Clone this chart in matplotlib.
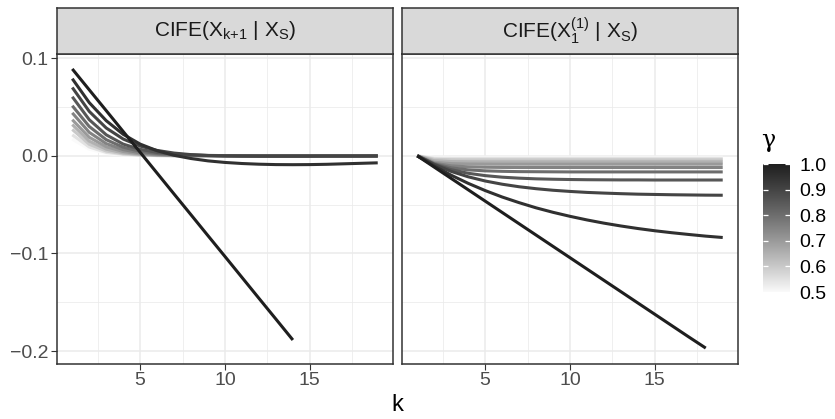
import matplotlib

matplotlib.use("Agg")

import matplotlib.pyplot as plt
import numpy as np
from matplotlib.colors import LinearSegmentedColormap

plt.rcParams["font.family"] = ["Liberation Sans", "DejaVu Sans"]
plt.rcParams["mathtext.fontset"] = "custom"
plt.rcParams["mathtext.rm"] = "Liberation Sans"
plt.rcParams["mathtext.it"] = "Liberation Sans:italic"
plt.rcParams["mathtext.default"] = "regular"

# ---- data ----
k = list(range(1, 20))
gammas = [0.5, 0.55, 0.6, 0.65, 0.7, 0.75, 0.8, 0.85, 0.9, 0.95, 1.0]

# left panel: CIFE(X_{k+1} | X_S)
next_050 = [0.0170, 0.0068, 0.0025, 0.0009, 0.0003, 0.0001, 0.0, 0.0, 0.0, 0.0, 0.0, 0.0, 0.0, 0.0, 0.0, 0.0, 0.0, 0.0, 0.0]
next_055 = [0.0215, 0.0090, 0.0035, 0.0013, 0.0005, 0.0002, 0.0001, 0.0, 0.0, 0.0, 0.0, 0.0, 0.0, 0.0, 0.0, 0.0, 0.0, 0.0, 0.0]
next_060 = [0.0270, 0.0118, 0.0049, 0.0020, 0.0008, 0.0003, 0.0001, 0.0, 0.0, 0.0, 0.0, 0.0, 0.0, 0.0, 0.0, 0.0, 0.0, 0.0, 0.0]
next_065 = [0.0320, 0.0150, 0.0068, 0.0030, 0.0013, 0.0006, 0.0002, 0.0001, 0.0, 0.0, 0.0, 0.0, 0.0, 0.0, 0.0, 0.0, 0.0, 0.0, 0.0]
next_070 = [0.0370, 0.0190, 0.0093, 0.0044, 0.0020, 0.0009, 0.0004, 0.0002, 0.0001, 0.0, 0.0, 0.0, 0.0, 0.0, 0.0, 0.0, 0.0, 0.0, 0.0]
next_075 = [0.0440, 0.0240, 0.0125, 0.0063, 0.0031, 0.0015, 0.0007, 0.0003, 0.0001, 0.0, 0.0, 0.0, 0.0, 0.0, 0.0, 0.0, 0.0, 0.0, 0.0]
next_080 = [0.0513, 0.0300, 0.0165, 0.0088, 0.0046, 0.0024, 0.0012, 0.0006, 0.0003, 0.0001, 0.0, 0.0, 0.0, 0.0, 0.0, 0.0, 0.0, 0.0, 0.0]
next_085 = [0.0605, 0.0370, 0.0215, 0.0120, 0.0066, 0.0035, 0.0018, 0.0009, 0.0004, 0.0002, 0.0001, 0.0, 0.0, 0.0, 0.0, 0.0, 0.0, 0.0, 0.0]
next_090 = [0.0700, 0.0455, 0.0285, 0.0172, 0.0100, 0.0055, 0.0028, 0.0012, 0.0003, -0.0002, -0.0004, -0.0005, -0.0005, -0.0005, -0.0005, -0.0004, -0.0004, -0.0004, -0.0003]
next_095 = [0.0790, 0.0545, 0.0360, 0.0220, 0.0120, 0.0052, 0.0005, -0.0028, -0.0052, -0.0068, -0.0079, -0.0086, -0.0090, -0.0091, -0.0090, -0.0087, -0.0082, -0.0077, -0.0072]
next_100 = [0.0890, 0.0676, 0.0463, 0.0249, 0.0036, -0.0178, -0.0392, -0.0605, -0.0819, -0.1032, -0.1246, -0.1460, -0.1673, -0.1887]

# right panel: CIFE(X_1^(1) | X_S)
copy_050 = [0.0, -0.0014, -0.0015, -0.0015, -0.0015, -0.0015, -0.0015, -0.0015, -0.0015, -0.0015, -0.0015, -0.0015, -0.0015, -0.0015, -0.0015, -0.0015, -0.0015, -0.0015, -0.0015]
copy_055 = [0.0, -0.0024, -0.0025, -0.0025, -0.0025, -0.0025, -0.0025, -0.0025, -0.0025, -0.0025, -0.0025, -0.0025, -0.0025, -0.0025, -0.0025, -0.0025, -0.0025, -0.0025, -0.0025]
copy_060 = [0.0, -0.0036, -0.0040, -0.0041, -0.0041, -0.0041, -0.0041, -0.0041, -0.0041, -0.0041, -0.0041, -0.0041, -0.0041, -0.0041, -0.0041, -0.0041, -0.0041, -0.0041, -0.0041]
copy_065 = [0.0, -0.0050, -0.0059, -0.0061, -0.0062, -0.0062, -0.0062, -0.0062, -0.0062, -0.0062, -0.0062, -0.0062, -0.0062, -0.0062, -0.0062, -0.0062, -0.0062, -0.0062, -0.0062]
copy_070 = [0.0, -0.0066, -0.0080, -0.0084, -0.0085, -0.0086, -0.0086, -0.0086, -0.0086, -0.0086, -0.0086, -0.0086, -0.0086, -0.0086, -0.0086, -0.0086, -0.0086, -0.0086, -0.0086]
copy_075 = [0.0, -0.0076, -0.0103, -0.0113, -0.0117, -0.0119, -0.0120, -0.0120, -0.0120, -0.0120, -0.0120, -0.0120, -0.0120, -0.0120, -0.0120, -0.0120, -0.0120, -0.0120, -0.0120]
copy_080 = [0.0, -0.0082, -0.0123, -0.0144, -0.0154, -0.0159, -0.0162, -0.0163, -0.0164, -0.0165, -0.0165, -0.0165, -0.0165, -0.0165, -0.0165, -0.0165, -0.0165, -0.0165, -0.0165]
copy_085 = [0.0, -0.0086, -0.0142, -0.0179, -0.0203, -0.0219, -0.0229, -0.0236, -0.0240, -0.0243, -0.0245, -0.0246, -0.0247, -0.0247, -0.0248, -0.0248, -0.0248, -0.0248, -0.0248]
copy_090 = [0.0, -0.0090, -0.0160, -0.0215, -0.0258, -0.0291, -0.0317, -0.0337, -0.0353, -0.0365, -0.0375, -0.0382, -0.0388, -0.0393, -0.0396, -0.0399, -0.0401, -0.0403, -0.0404]
copy_095 = [0.0, -0.0105, -0.0199, -0.0282, -0.0356, -0.0422, -0.0480, -0.0533, -0.0579, -0.0620, -0.0657, -0.0690, -0.0719, -0.0745, -0.0768, -0.0788, -0.0806, -0.0823, -0.0837]
copy_100 = [0.0, -0.0116, -0.0232, -0.0348, -0.0464, -0.0580, -0.0696, -0.0812, -0.0928, -0.1044, -0.1160, -0.1276, -0.1392, -0.1508, -0.1624, -0.1740, -0.1856, -0.1970]

left_series = [next_050, next_055, next_060, next_065, next_070, next_075,
               next_080, next_085, next_090, next_095, next_100]
right_series = [copy_050, copy_055, copy_060, copy_065, copy_070, copy_075,
                copy_080, copy_085, copy_090, copy_095, copy_100]
strip_titles = [r"CIFE(X$_{k{+}1}$ | X$_S$)", r"CIFE(X$_1^{(1)}$ | X$_S$)"]


# gradient like ggplot (interpolated in Lab lightness)
def grey_to_L(v):
    v = v / 255.0
    lin = ((v + 0.055) / 1.055) ** 2.4 if v > 0.04045 else v / 12.92
    return 116 * lin ** (1 / 3) - 16 if lin > 0.008856 else 903.3 * lin


def L_to_grey(L):
    lin = ((L + 16) / 116) ** 3 if L > 8 else L / 903.3
    v = 1.055 * lin ** (1 / 2.4) - 0.055 if lin > 0.0031308 else 12.92 * lin
    return min(max(v, 0), 1)


L_lo, L_hi = grey_to_L(250), grey_to_L(30)
ramp = [L_to_grey(L_lo + (L_hi - L_lo) * t) for t in np.linspace(0, 1, 256)]
cmap = LinearSegmentedColormap.from_list("g", [(r, r, r) for r in ramp])
g_min, g_max = 0.5, 1.0


def colour(g):
    return cmap((g - g_min) / (g_max - g_min))


W, H = 835, 419
fig = plt.figure(figsize=(W / 100, H / 100), dpi=100)


def box(x0, y0, x1, y1):
    return [x0 / W, 1 - y1 / H, (x1 - x0) / W, (y1 - y0) / H]


panel_x = [(57, 393), (402, 738)]
ylim = (-0.2133, 0.1043)
xlim = (0.1, 19.9)
edge = "#333333"

for i, (series, title) in enumerate(zip([left_series, right_series], strip_titles)):
    x0, x1 = panel_x[i]
    ax = fig.add_axes(box(x0, 54, x1, 364))
    ax.set_xlim(*xlim)
    ax.set_ylim(*ylim)
    ax.set_xticks([5, 10, 15])
    ax.set_xticks([2.5, 7.5, 12.5, 17.5], minor=True)
    ax.set_yticks([-0.2, -0.1, 0.0, 0.1])
    ax.set_yticks([-0.15, -0.05, 0.05], minor=True)
    ax.grid(which="major", color="#EBEBEB", lw=1.1, zorder=0)
    ax.grid(which="minor", color="#EBEBEB", lw=0.55, zorder=0)
    ax.set_axisbelow(True)
    for s in ax.spines.values():
        s.set_color(edge)
        s.set_linewidth(1.1)
    ax.tick_params(which="major", length=4, width=0.8, color=edge,
                   labelsize=14, labelcolor="#4D4D4D", pad=2)
    ax.tick_params(which="minor", length=0)
    ax.set_yticklabels(["\u22120.2", "\u22120.1", "0.0", "0.1"])
    if i == 1:
        ax.tick_params(axis="y", which="major", length=0, labelleft=False)

    for g, vals in zip(gammas, series):
        ax.plot(k[:len(vals)], vals, color=colour(g), lw=2.2,
                solid_capstyle="butt", zorder=2)

    st = fig.add_axes(box(x0, 8, x1, 54))
    st.set_facecolor("#D9D9D9")
    st.set_xticks([])
    st.set_yticks([])
    for s in st.spines.values():
        s.set_color(edge)
        s.set_linewidth(1.1)
    st.text(0.5, 0.5, title, ha="center", va="center", fontsize=15,
            color="#1A1A1A", transform=st.transAxes)

fig.text(397.5 / W, 1 - 405 / H, "k", ha="center", va="center", fontsize=17)

# colour bar legend
cb = fig.add_axes(box(763, 164, 790, 292))
cb.imshow(np.linspace(g_min, g_max, 256)[:, None], extent=[0, 1, g_min, g_max],
          origin="lower", aspect="auto", cmap=cmap, vmin=g_min, vmax=g_max)
breaks = [0.5, 0.6, 0.7, 0.8, 0.9, 1.0]
for b in breaks:
    cb.plot([0, 0.2], [b, b], color="white", lw=0.9, solid_capstyle="butt")
    cb.plot([0.8, 1.0], [b, b], color="white", lw=0.9, solid_capstyle="butt")
cb.set_xlim(0, 1)
cb.set_ylim(g_min, g_max)
cb.set_xticks([])
cb.yaxis.tick_right()
cb.set_yticks(breaks)
cb.set_yticklabels([f"{b:.1f}" for b in breaks])
cb.tick_params(axis="y", length=0, labelsize=14, labelcolor="black", pad=7)
for s in cb.spines.values():
    s.set_visible(False)
fig.text(768 / W, 1 - 140 / H, "\u03b3", ha="center", va="center", fontsize=17,
         family=["DejaVu Serif"])

fig.savefig("out.png", dpi=100)
